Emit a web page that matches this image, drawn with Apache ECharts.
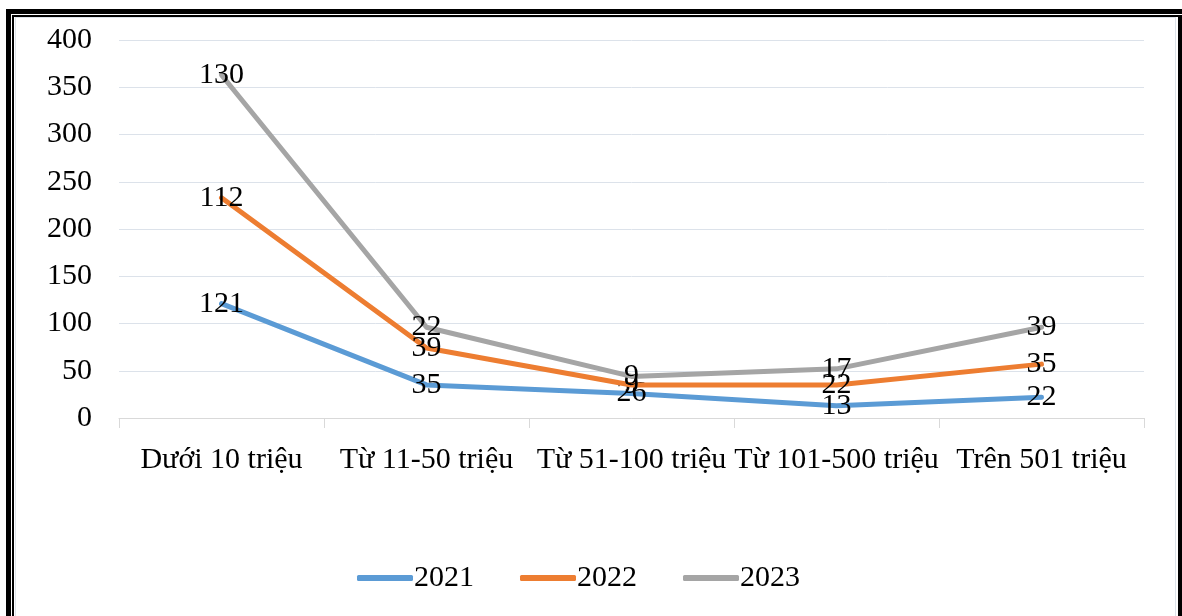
<!DOCTYPE html>
<html>
<head>
<meta charset="utf-8">
<script src="https://cdn.jsdelivr.net/npm/echarts@6/dist/echarts.min.js"></script>
<style>
  html, body { margin: 0; padding: 0; background: #fff; }
  #chart { position: absolute; left: 0; top: 0; width: 1182px; height: 616px; }
  .f { position: absolute; pointer-events: none; box-sizing: border-box; }
</style>
</head>
<body>
<div id="chart"></div>
<div class="f" style="left:6px;top:9px;width:1176px;height:607px;border-top:5px solid #000;border-left:5px solid #000;"></div>
<div class="f" style="left:12px;top:15px;width:1170px;height:601px;border-top:2px solid #000;border-left:2px solid #000;border-right:4px solid #000;"></div>
<div class="f" style="left:15px;top:17px;width:1161px;height:599px;border-top:1px solid #dde3ea;border-left:1px solid #dde3ea;border-right:1px solid #dde3ea;"></div>
<script>
const categories = ['Dưới 10 triệu', 'Từ 11-50 triệu', 'Từ 51-100 triệu', 'Từ 101-500 triệu', 'Trên 501 triệu'];
const years = ['2021', '2022', '2023'];
const values2021 = [121, 35, 26, 13, 22];
const values2022 = [112, 39, 9, 22, 35];
const values2023 = [130, 22, 9, 17, 39];
const colors = ['#5B9BD5', '#ED7D31', '#A5A5A5'];

const FONT = '"Liberation Serif", "Times New Roman", serif';
const FS = 30;

const chart = echarts.init(document.getElementById('chart'), null, { renderer: 'canvas' });
const seriesData = [values2021, values2022, values2023];

chart.setOption({
  animation: false,
  color: colors,
  textStyle: { fontFamily: FONT },
  grid: { left: 119, right: 38, top: 40, bottom: 198, containLabel: false },
  legend: {
    data: years,
    left: 357,
    top: 563,
    padding: 0,
    itemWidth: 56,
    itemHeight: 6,
    itemGap: 46,
    icon: 'roundRect',
    textStyle: { fontFamily: FONT, fontSize: FS, color: '#000', padding: [0, 0, 0, -4] }
  },
  xAxis: {
    type: 'category',
    data: categories,
    boundaryGap: true,
    axisLine: { lineStyle: { color: '#d9d9d9', width: 1 } },
    axisTick: { show: true, length: 10, lineStyle: { color: '#d9d9d9' } },
    axisLabel: { fontFamily: FONT, fontSize: FS, color: '#000', margin: 27, interval: 0 }
  },
  yAxis: {
    type: 'value',
    min: 0,
    max: 400,
    interval: 50,
    axisLine: { show: false },
    axisTick: { show: false },
    splitLine: { lineStyle: { color: '#dce2ea', width: 1 } },
    axisLabel: { fontFamily: FONT, fontSize: FS, color: '#000', margin: 27 }
  },
  series: years.map((y, i) => ({
    name: y,
    type: 'line',
    stack: 'total',
    data: seriesData[i],
    symbol: 'circle',
    symbolSize: 1,
    showSymbol: true,
    itemStyle: { color: colors[i] },
    lineStyle: { width: 5, color: colors[i], cap: 'round', join: 'round' },
    label: {
      show: true,
      position: 'inside',
      fontFamily: FONT,
      fontSize: FS,
      color: '#000'
    },
    z: 2 + i
  }))
});
</script>
</body>
</html>
